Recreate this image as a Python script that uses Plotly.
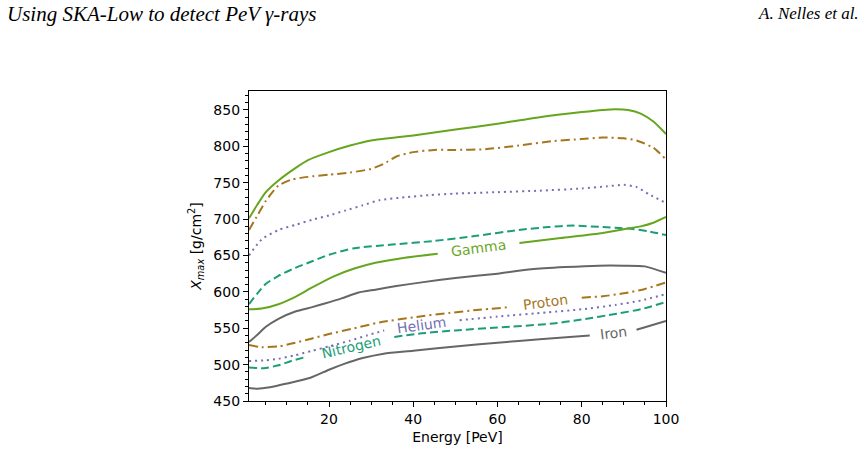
import math
import plotly.graph_objects as go

# ---------------- data ----------------
# upper group of curves (no labels)
up_gamma_E = [1, 3, 5, 8, 12, 15, 20, 25, 30, 40, 50, 60, 70, 80, 85, 88, 91, 94, 97, 100]
up_gamma_X = [701, 720, 737, 753, 770, 781, 792, 801, 808, 815, 823, 831, 840, 847, 850, 851, 850, 845, 834, 817]

up_proton_E = [1, 3, 5, 8, 11, 15, 20, 25, 30, 33, 36, 40, 45, 50, 57, 65, 73, 80, 85, 90, 93, 97, 100]
up_proton_X = [685, 705, 725, 746, 754, 758, 761, 764, 769, 776, 786, 792, 795, 795, 796, 801, 807, 810, 812, 811, 808, 798, 782]

up_helium_E = [1, 4, 8, 12, 16, 20, 24, 28, 32, 38, 44, 50, 60, 70, 80, 86, 90, 93, 96, 100]
up_helium_X = [650, 672, 685, 692, 699, 705, 712, 719, 726, 730, 733, 735, 737, 739, 742, 745, 747, 744, 734, 722]

up_nitrogen_E = [1, 3, 5, 8, 12, 16, 20, 26, 35, 45, 55, 65, 72, 78, 85, 91, 96, 100]
up_nitrogen_X = [583, 598, 611, 622, 633, 642, 651, 660, 665, 670, 677, 685, 689, 691, 689, 687, 683, 678]

up_iron_E = [1, 3, 5, 8, 12, 16, 19, 23, 27, 31, 36, 42, 50, 60, 68, 76, 84, 90, 95, 100]
up_iron_X = [531, 541, 552, 563, 573, 579, 584, 591, 599, 603, 608, 613, 619, 625, 631, 634, 636, 636, 635, 626]

# lower group of curves (inline labels)
lo_gamma_E = [1, 4, 8, 12, 16, 21, 26, 31, 38, 45.8, 55, 65.2, 75, 85, 91, 94, 97, 100]
lo_gamma_X = [576, 577, 583, 593, 606, 621, 632, 640, 647, 652.5, 660, 667, 674, 681, 687, 690, 695, 703]

lo_proton_E = [1, 4, 8, 12, 16, 20, 26, 32, 40, 48.6, 55, 62.9, 72, 80, 85, 90, 95, 100]
lo_proton_X = [527, 524, 525, 530, 536, 542, 550, 558, 565, 571, 575, 579, 585, 592, 594, 598, 604, 613]

lo_helium_E = [1, 5, 8, 12, 16, 20, 25, 29, 33.1, 42, 51, 60, 72, 80, 88, 94, 100]
lo_helium_X = [505, 506, 508, 513, 519, 525, 533, 540, 547, 554, 561, 566, 572, 576, 582, 588, 597]

lo_nitrogen_E = [1, 4.5, 8, 11, 14.8, 25, 35.5, 42, 50, 60, 72.4, 80, 88.3, 94, 100]
lo_nitrogen_X = [496, 495, 499, 505, 511, 526, 538, 543, 547, 551, 556, 562, 570, 576, 586]

lo_iron_E = [1, 3, 6, 10, 15.6, 20, 23.6, 28, 33, 40, 50, 60, 70, 81.9, 87, 93, 96, 100]
lo_iron_X = [468, 467, 469, 474, 482, 493, 501, 509, 515, 519, 525, 530, 535, 540, 544, 548, 553, 560]

labels = ["Gamma", "Proton", "Helium", "Nitrogen", "Iron"]
label_gaps = [(45.8, 65.2), (62.9, 80), (33.1, 51), (14.8, 35.5), (81.9, 93)]

x_ticks = [20, 40, 60, 80, 100]
y_ticks = [450, 500, 550, 600, 650, 700, 750, 800, 850]

# ---------------- style ----------------
colors = {"Gamma": "#66a61e", "Proton": "#a6761d", "Helium": "#7570b3",
          "Nitrogen": "#1b9e77", "Iron": "#666666"}
dashes = {"Gamma": "solid", "Proton": "9px,4px,2px,4px", "Helium": "2px,4px",
          "Nitrogen": "8px,4px", "Iron": "solid"}

X_RANGE = [1, 100]
Y_RANGE = [450, 876]
L, R, T, B = 249, 200, 91, 50
W, H = 866, 455
pw = W - L - R
ph = H - T - B
sx = pw / (X_RANGE[1] - X_RANGE[0])
sy = ph / (Y_RANGE[1] - Y_RANGE[0])

fig = go.Figure()

upper = [("Gamma", up_gamma_E, up_gamma_X), ("Proton", up_proton_E, up_proton_X),
         ("Helium", up_helium_E, up_helium_X), ("Nitrogen", up_nitrogen_E, up_nitrogen_X),
         ("Iron", up_iron_E, up_iron_X)]
lower = [("Gamma", lo_gamma_E, lo_gamma_X), ("Proton", lo_proton_E, lo_proton_X),
         ("Helium", lo_helium_E, lo_helium_X), ("Nitrogen", lo_nitrogen_E, lo_nitrogen_X),
         ("Iron", lo_iron_E, lo_iron_X)]

for name, E, X in upper:
    fig.add_trace(go.Scatter(x=E, y=X, mode="lines", showlegend=False,
                             line=dict(color=colors[name], width=2, dash=dashes[name],
                                       shape="spline", smoothing=0.6)))

for (name, E, X), (g0, g1) in zip(lower, label_gaps):
    xs, ys = [], []
    for e, v in zip(E, X):
        if g0 < e < g1:
            continue
        xs.append(e)
        ys.append(v)
        if e == g0:
            xs.append(None)
            ys.append(None)
    fig.add_trace(go.Scatter(x=xs, y=ys, mode="lines", showlegend=False, connectgaps=False,
                             line=dict(color=colors[name], width=2, dash=dashes[name],
                                       shape="spline", smoothing=0.6)))
    v0 = X[E.index(g0)]
    v1 = X[E.index(g1)]
    ang = -math.degrees(math.atan2((v1 - v0) * sy, (g1 - g0) * sx))
    fig.add_annotation(x=(g0 + g1) / 2, y=(v0 + v1) / 2, text=name, showarrow=False,
                       textangle=ang, font=dict(family="DejaVu Sans", size=14, color=colors[name]),
                       xanchor="center", yanchor="middle")

# page header
fig.add_annotation(xref="paper", yref="paper", x=(5 - L) / pw, y=1 + (T - 13) / ph,
                   text="<i>Using SKA-Low to detect PeV γ-rays</i>", showarrow=False,
                   xanchor="left", yanchor="middle",
                   font=dict(family="Liberation Serif", size=21, color="black"))
fig.add_annotation(xref="paper", yref="paper", x=1 + (R - 5) / pw, y=1 + (T - 13) / ph,
                   text="<i>A. Nelles et al.</i>", showarrow=False,
                   xanchor="right", yanchor="middle",
                   font=dict(family="Liberation Serif", size=17, color="black"))

axis_common = dict(showline=True, linecolor="black", linewidth=1.2, mirror=True,
                   showgrid=False, zeroline=False, ticks="outside", ticklen=5,
                   tickwidth=1.2, tickcolor="black",
                   tickfont=dict(family="DejaVu Sans", size=14, color="black"))

fig.update_xaxes(range=X_RANGE, tickvals=x_ticks, ticktext=[str(t) for t in x_ticks],
                 minor=dict(dtick=5, tick0=0, ticks="outside", ticklen=3, tickwidth=1, tickcolor="black"),
                 title=dict(text="Energy [PeV]", standoff=6,
                            font=dict(family="DejaVu Sans", size=14, color="black")),
                 **axis_common)
fig.update_yaxes(range=Y_RANGE, tickvals=y_ticks, ticktext=[str(t) for t in y_ticks],
                 minor=dict(dtick=10, tick0=0, ticks="outside", ticklen=3, tickwidth=1, tickcolor="black"),
                 title=dict(text="<i>X</i><sub><i>max</i></sub> [g/cm<sup>2</sup>]", standoff=8,
                            font=dict(family="DejaVu Sans", size=14, color="black")),
                 **axis_common)

fig.update_layout(width=W, height=H, margin=dict(l=L, r=R, t=T, b=B),
                  plot_bgcolor="white", paper_bgcolor="white")

fig.write_html("out.html")
